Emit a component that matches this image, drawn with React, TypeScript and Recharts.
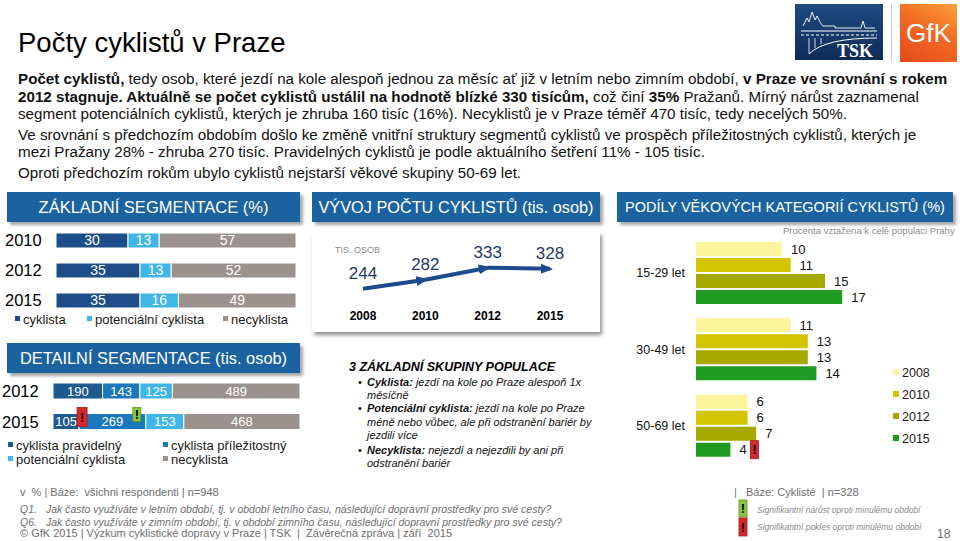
import React from 'react';
import { BarChart, Bar, XAxis, YAxis, LabelList, LineChart, Line } from 'recharts';

// ---------- DATA ----------
const basicYears = ['2010', '2012', '2015'];
const basicCyklista = [30, 35, 35];
const basicPotencialni = [13, 13, 16];
const basicNecyklista = [57, 52, 49];

const detailYears = ['2012', '2015'];
const detailPravidelny = [190, 105];
const detailPrilezitostny = [143, 269];
const detailPotencialni = [125, 153];
const detailNecyklista = [489, 468];
const detailSignifPravidelny = [null, 'down'];
const detailSignifPrilezitostny = [null, 'up'];

const trendYears = ['2008', '2010', '2012', '2015'];
const trendValues = [244, 282, 333, 328];

const ageGroups = ['15-29 let', '30-49 let', '50-69 let'];
const age2008 = [10, 11, 6];
const age2010 = [11, 13, 6];
const age2012 = [15, 13, 7];
const age2015 = [17, 14, 4];
const age2015Signif = [null, null, 'down'];
const ageSeriesNames = ['2008', '2010', '2012', '2015'];

// ---------- TABLES ----------
const basicData = basicYears.map((year, i) => ({
  year,
  cyklista: basicCyklista[i],
  potencialni: basicPotencialni[i],
  necyklista: basicNecyklista[i],
}));
const detailData = detailYears.map((year, i) => ({
  year,
  pravidelny: detailPravidelny[i],
  prilezitostny: detailPrilezitostny[i],
  potencialni: detailPotencialni[i],
  necyklista: detailNecyklista[i],
}));
// each arrow segment of the trend is its own series (so each gets an arrow head)
const trendSegKeys = trendValues.slice(1).map((_, s) => `seg${s}`);
const trendData = trendYears.map((year, i) => {
  const row: any = { year, value: trendValues[i] };
  trendSegKeys.forEach((k, s) => {
    row[k] = i === s || i === s + 1 ? trendValues[i] : null;
  });
  return row;
});
const ageData = ageGroups.map((group, i) => ({
  group,
  y2008: age2008[i],
  y2010: age2010[i],
  y2012: age2012[i],
  y2015: age2015[i],
}));

// ---------- STYLE ----------
const FONT = '"Liberation Sans", Arial, Helvetica, sans-serif';
const HEADER_BG = '#1b63a0';
const C_CYK = '#1d4e8a';
const C_POT = '#40b6e8';
const C_NEC = '#9b918f';
const C_PRAV = '#1e5a8d';
const C_PRIL = '#1b78bc';
const AGE_COLORS = ['#fbf49a', '#d0c500', '#a8a900', '#1f9b22'];
const LINE_C = '#1d4a8c';
const RED = '#d9282c';
const GREEN = '#8cc63f';

function Header({ left, top, width, text, fontSize }: any) {
  return (
    <div
      style={{
        position: 'absolute', left, top, width, height: 30, background: HEADER_BG,
        boxShadow: '3px 3px 3px rgba(0,0,0,0.35)', color: '#fff', fontSize,
        lineHeight: '30px', textAlign: 'center', whiteSpace: 'nowrap',
      }}
    >
      {text}
    </div>
  );
}

function Txt({ left, top, size, children, style }: any) {
  return (
    <div
      style={{
        position: 'absolute', left, top: top - size / 2, fontSize: size, lineHeight: `${size}px`,
        whiteSpace: 'nowrap', ...style,
      }}
    >
      {children}
    </div>
  );
}

function LegItem({ left, y, color, text, size = 13, sq = 5 }: any) {
  return (
    <div style={{ position: 'absolute', left, top: y - size / 2, height: size, fontSize: size, lineHeight: `${size}px`, whiteSpace: 'nowrap', color: '#1a1a1a' }}>
      <span style={{ display: 'inline-block', width: sq, height: sq, background: color, marginRight: 3, verticalAlign: 'middle', position: 'relative', top: -1 }} />
      <span style={{ verticalAlign: 'middle' }}>{text}</span>
    </div>
  );
}

function SignifMark({ x, y, w, h, kind }: any) {
  const fill = kind === 'down' ? RED : GREEN;
  const stroke = kind === 'down' ? '#9e1c1c' : '#5f8f25';
  return (
    <g>
      <rect x={x} y={y} width={w} height={h} fill={fill} stroke={stroke} strokeWidth={0.8} />
      <text x={x + w / 2} y={y + h / 2} textAnchor="middle" dominantBaseline="central" fontSize={13} fontWeight="bold" fill="#000">!</text>
    </g>
  );
}

const yearTick = (xPos: number, size: number) => (props: any) => (
  <text x={xPos} y={props.y} dominantBaseline="central" fontSize={size} fill="#000">
    {props.payload.value}
  </text>
);

const vbOf = (props: any) => {
  const vb = props.viewBox || props;
  return { x: Number(vb.x), y: Number(vb.y), width: Number(vb.width), height: Number(vb.height) };
};

// drawn on the last stacked segment so the marks sit above every segment
const detailSignifOverlay = (props: any) => {
  const idx = props.index;
  const row = detailData[idx];
  if (!row) return null;
  const { x, y, width } = vbOf(props);
  const total = row.pravidelny + row.prilezitostny + row.potencialni + row.necyklista;
  const W = width / (row.necyklista / total);
  const left = x + width - W;
  const b1 = left + (W * row.pravidelny) / total;
  const b2 = left + (W * (row.pravidelny + row.prilezitostny)) / total;
  return (
    <g>
      {detailSignifPravidelny[idx] ? <SignifMark x={b1 - 2} y={y - 6} w={10} h={19} kind={detailSignifPravidelny[idx]} /> : null}
      {detailSignifPrilezitostny[idx] ? <SignifMark x={b2 - 13} y={y - 6} w={8} h={14} kind={detailSignifPrilezitostny[idx]} /> : null}
    </g>
  );
};

const ageLabel = (signif: any[] | null) => (props: any) => {
  const { x, y, width, height } = vbOf(props);
  const tx = x + width + 9;
  const cy = y + height / 2;
  const s = signif ? signif[props.index] : null;
  return (
    <g>
      <text x={tx} y={cy} dominantBaseline="central" fontSize={13} fill="#111">{props.value}</text>
      {s ? <SignifMark x={tx + 11} y={cy - 9} w={8} h={18} kind={s} /> : null}
    </g>
  );
};

const trendLabel = (props: any) => {
  const { x, y } = props;
  return (
    <text x={Number(x)} y={Number(y) - 10} textAnchor="middle" fontSize={17} fill="#1f3864">
      {props.value}
    </text>
  );
};

export default function App() {
  return (
    <div style={{ position: 'absolute', left: 0, top: 0, width: 960, height: 541, background: '#fff', fontFamily: FONT, overflow: 'hidden', color: '#000' }}>
      {/* Title */}
      <Txt left={18} top={43} size={27.5}>Počty cyklistů v Praze</Txt>

      {/* Logos */}
      <svg style={{ position: 'absolute', left: 795, top: 4 }} width={88} height={56}>
        <defs>
          <linearGradient id="tskg" x1="0" y1="0" x2="0" y2="1">
            <stop offset="0" stopColor="#1f4a80" />
            <stop offset="1" stopColor="#0f2b57" />
          </linearGradient>
        </defs>
        <rect x={0} y={0} width={88} height={56} fill="url(#tskg)" />
        <polyline points="8,22 12,14 14,18 17,8 20,16 22,12 25,18 28,22 40,22 40,24 66,24 68,17 70,24 80,24" fill="none" stroke="#fff" strokeWidth={0.9} />
        <line x1={6} y1={27} x2={82} y2={27} stroke="#fff" strokeWidth={1.2} />
        <line x1={6} y1={31} x2={82} y2={31} stroke="#fff" strokeWidth={1.2} strokeDasharray="3,2" />
        <path d="M14,50 Q30,34 82,34" fill="none" stroke="#fff" strokeWidth={1} />
        <line x1={14} y1={34} x2={14} y2={50} stroke="#fff" strokeWidth={0.8} />
        <line x1={20} y1={34} x2={20} y2={44} stroke="#fff" strokeWidth={0.8} />
        <line x1={26} y1={34} x2={26} y2={40} stroke="#fff" strokeWidth={0.8} />
        <text x={60} y={53} textAnchor="middle" fontFamily="'Liberation Serif', serif" fontWeight="bold" fontSize={18} fill="#fff">TSK</text>
      </svg>
      <div style={{ position: 'absolute', left: 891, top: 4, width: 1, height: 58, background: '#c8c8c8' }} />
      <div style={{ position: 'absolute', left: 900, top: 4, width: 57, height: 58, background: 'linear-gradient(30deg, #e34a1c 0%, #f26a22 55%, #f9a13a 100%)', color: '#fff', fontSize: 26, lineHeight: '58px', textAlign: 'center' }}>GfK</div>

      {/* Paragraph */}
      <div style={{ position: 'absolute', left: 18, top: 0, color: '#111' }}>
        <Txt left={0} top={79} size={15.2}><b>Počet cyklistů,</b> tedy osob, které jezdí na kole alespoň jednou za měsíc ať již v letním nebo zimním období, <b>v Praze ve srovnání s rokem</b></Txt>
        <Txt left={0} top={97} size={15.2}><b>2012 stagnuje. Aktuálně se počet cyklistů ustálil na hodnotě blízké 330 tisícům,</b> což činí <b>35%</b> Pražanů. Mírný nárůst zaznamenal</Txt>
        <Txt left={0} top={114} size={15.2}>segment potenciálních cyklistů, kterých je zhruba 160 tisíc (16%). Necyklistů je v Praze téměř 470 tisíc, tedy necelých 50%.</Txt>
        <Txt left={0} top={135} size={15.2}>Ve srovnání s předchozím obdobím došlo ke změně vnitřní struktury segmentů cyklistů ve prospěch příležitostných cyklistů, kterých je</Txt>
        <Txt left={0} top={152} size={15.2}>mezi Pražany 28% - zhruba 270 tisíc. Pravidelných cyklistů je podle aktuálního šetření 11% - 105 tisíc.</Txt>
        <Txt left={0} top={173} size={15.2}>Oproti předchozím rokům ubylo cyklistů nejstarší věkové skupiny 50-69 let.</Txt>
      </div>

      {/* Headers */}
      <Header left={7} top={192} width={293} text="ZÁKLADNÍ SEGMENTACE (%)" fontSize={16.5} />
      <Header left={312} top={192} width={288} text="VÝVOJ POČTU CYKLISTŮ (tis. osob)" fontSize={16.3} />
      <Header left={617} top={192} width={336} text="PODÍLY VĚKOVÝCH KATEGORIÍ CYKLISTŮ (%)" fontSize={14.5} />
      <Header left={7} top={343} width={293} text="DETAILNÍ SEGMENTACE (tis. osob)" fontSize={16.4} />

      {/* Basic segmentation chart */}
      <div style={{ position: 'absolute', left: 0, top: 225 }}>
        <BarChart width={300} height={90} data={basicData} layout="vertical" margin={{ top: 0, right: 4, bottom: 0, left: 0 }}>
          <XAxis type="number" hide domain={[0, 100]} />
          <YAxis type="category" dataKey="year" width={56} axisLine={false} tickLine={false} tick={yearTick(5, 16.5)} />
          <Bar dataKey="cyklista" stackId="a" fill={C_CYK} stroke="#fff" strokeWidth={1} barSize={15} isAnimationActive={false}>
            <LabelList dataKey="cyklista" position="center" fill="#fff" fontSize={14} />
          </Bar>
          <Bar dataKey="potencialni" stackId="a" fill={C_POT} stroke="#fff" strokeWidth={1} barSize={15} isAnimationActive={false}>
            <LabelList dataKey="potencialni" position="center" fill="#fff" fontSize={14} />
          </Bar>
          <Bar dataKey="necyklista" stackId="a" fill={C_NEC} stroke="#fff" strokeWidth={1} barSize={15} isAnimationActive={false}>
            <LabelList dataKey="necyklista" position="center" fill="#fff" fontSize={14} />
          </Bar>
        </BarChart>
      </div>
      <LegItem left={15} y={318} color={C_CYK} text="cyklista" />
      <LegItem left={87} y={318} color={C_POT} text="potenciální cyklista" />
      <LegItem left={223} y={318} color={C_NEC} text="necyklista" />

      {/* Detailed segmentation chart */}
      <div style={{ position: 'absolute', left: 0, top: 376 }}>
        <BarChart width={300} height={61} data={detailData} layout="vertical" stackOffset="expand" margin={{ top: 0, right: 0, bottom: 0, left: 0 }}>
          <XAxis type="number" hide domain={[0, 1]} />
          <YAxis type="category" dataKey="year" width={53} axisLine={false} tickLine={false} tick={yearTick(2, 16.5)} />
          <Bar dataKey="pravidelny" stackId="d" fill={C_PRAV} stroke="#fff" strokeWidth={1} barSize={16} isAnimationActive={false}>
            <LabelList dataKey="pravidelny" position="center" fill="#fff" fontSize={13} />
          </Bar>
          <Bar dataKey="prilezitostny" stackId="d" fill={C_PRIL} stroke="#fff" strokeWidth={1} barSize={16} isAnimationActive={false}>
            <LabelList dataKey="prilezitostny" position="center" fill="#fff" fontSize={13} />
          </Bar>
          <Bar dataKey="potencialni" stackId="d" fill={C_POT} stroke="#fff" strokeWidth={1} barSize={16} isAnimationActive={false}>
            <LabelList dataKey="potencialni" position="center" fill="#fff" fontSize={13} />
          </Bar>
          <Bar dataKey="necyklista" stackId="d" fill={C_NEC} stroke="#fff" strokeWidth={1} barSize={16} isAnimationActive={false}>
            <LabelList dataKey="necyklista" position="center" fill="#fff" fontSize={13} />
            <LabelList dataKey="necyklista" content={detailSignifOverlay} />
          </Bar>
        </BarChart>
      </div>
      <LegItem left={8} y={444} color={C_PRAV} text="cyklista pravidelný" />
      <LegItem left={163} y={444} color={C_PRIL} text="cyklista příležitostný" />
      <LegItem left={8} y={458} color={C_POT} text="potenciální cyklista" />
      <LegItem left={163} y={458} color={C_NEC} text="necyklista" />

      {/* Trend chart */}
      <div style={{ position: 'absolute', left: 312, top: 232, width: 288, height: 100, background: '#fff', boxShadow: '2px 3px 4px rgba(0,0,0,0.45)' }}>
        <LineChart width={288} height={100} data={trendData} margin={{ top: 8, right: 19, bottom: 0, left: 20 }}>
          <defs>
            <marker id="arrowHead" viewBox="0 0 12 10" refX="9" refY="5" markerWidth="3" markerHeight="2.5" orient="auto" markerUnits="strokeWidth">
              <path d="M0,0 L12,5 L0,10 z" fill={LINE_C} />
            </marker>
          </defs>
          <XAxis dataKey="year" padding={{ left: 31, right: 31 }} axisLine={false} tickLine={false} height={21}
            tick={(p: any) => (
              <text x={p.x} y={p.y - 3} textAnchor="middle" dominantBaseline="central" fontSize={12} fontWeight="bold" fill="#000">{p.payload.value}</text>
            )} />
          <YAxis hide domain={[150, 450]} />
          {trendSegKeys.map((k) => (
            <Line key={k} dataKey={k} type="linear" stroke={LINE_C} strokeWidth={4} dot={false} activeDot={false}
              connectNulls={false} markerEnd="url(#arrowHead)" isAnimationActive={false} />
          ))}
          <Line dataKey="value" type="linear" stroke="none" dot={false} activeDot={false} isAnimationActive={false}>
            <LabelList dataKey="value" content={trendLabel} />
          </Line>
        </LineChart>
        <Txt left={23} top={18} size={9} style={{ color: '#8c8c8c' }}>TIS. OSOB</Txt>
      </div>

      {/* Group definitions */}
      <Txt left={349} top={367} size={12.5} style={{ fontWeight: 'bold', fontStyle: 'italic' }}>3 ZÁKLADNÍ SKUPINY POPULACE</Txt>
      {[382, 408, 450].map((y) => (
        <Txt key={y} left={358} top={y} size={11}>•</Txt>
      ))}
      <div style={{ fontStyle: 'italic', color: '#111' }}>
        <Txt left={367} top={382} size={11}><b>Cyklista:</b> jezdí na kole po Praze alespoň 1x</Txt>
        <Txt left={367} top={395} size={11}>měsíčně</Txt>
        <Txt left={367} top={408} size={11}><b>Potenciální cyklista:</b> jezdí na kole po Praze</Txt>
        <Txt left={367} top={422} size={11}>méně nebo vůbec, ale při odstranění bariér by</Txt>
        <Txt left={367} top={435} size={11}>jezdili více</Txt>
        <Txt left={367} top={450} size={11}><b>Necyklista:</b> nejezdí a nejezdili by ani při</Txt>
        <Txt left={367} top={463} size={11}>odstranění bariér</Txt>
      </div>

      {/* Age chart */}
      <Txt left={783} top={231} size={9.5} style={{ color: '#8c8c8c' }}>Procenta vztažena k celé populaci Prahy</Txt>
      <div style={{ position: 'absolute', left: 610, top: 235 }}>
        <BarChart width={258} height={229} data={ageData} layout="vertical" barSize={14} barGap={2} margin={{ top: 0, right: 0, bottom: 0, left: 0 }}>
          <XAxis type="number" hide domain={[0, 20]} />
          <YAxis type="category" dataKey="group" width={86} axisLine={false} tickLine={false}
            tick={(p: any) => (
              <text x={75} y={p.y} textAnchor="end" dominantBaseline="central" fontSize={12.5} fill="#111">{p.payload.value}</text>
            )} />
          <Bar dataKey="y2008" fill={AGE_COLORS[0]} isAnimationActive={false}>
            <LabelList dataKey="y2008" content={ageLabel(null)} />
          </Bar>
          <Bar dataKey="y2010" fill={AGE_COLORS[1]} isAnimationActive={false}>
            <LabelList dataKey="y2010" content={ageLabel(null)} />
          </Bar>
          <Bar dataKey="y2012" fill={AGE_COLORS[2]} isAnimationActive={false}>
            <LabelList dataKey="y2012" content={ageLabel(null)} />
          </Bar>
          <Bar dataKey="y2015" fill={AGE_COLORS[3]} isAnimationActive={false}>
            <LabelList dataKey="y2015" content={ageLabel(age2015Signif)} />
          </Bar>
        </BarChart>
      </div>
      {ageSeriesNames.map((n, i) => (
        <LegItem key={n} left={893} y={373 + i * 22} color={AGE_COLORS[i]} text={n} size={12.5} sq={6} />
      ))}

      {/* Footer */}
      <div style={{ color: '#6e6e6e' }}>
        <Txt left={20} top={492} size={11}>v&nbsp; % | Báze:&nbsp; všichni respondenti | n=948</Txt>
        <Txt left={20} top={509} size={10.5} style={{ fontStyle: 'italic' }}><span style={{ display: 'inline-block', width: 26 }}>Q1.</span>Jak často využíváte v letním období, tj. v období letního času, následující dopravní prostředky pro své cesty?</Txt>
        <Txt left={20} top={522} size={10.5} style={{ fontStyle: 'italic' }}><span style={{ display: 'inline-block', width: 26 }}>Q6.</span>Jak často využíváte v zimním období, tj. v období zimního času, následující dopravní prostředky pro své cesty?</Txt>
        <Txt left={20} top={533} size={11}>© GfK 2015 | Výzkum cyklistické dopravy v Praze | TSK&nbsp; |&nbsp; Závěrečná zpráva | září&nbsp; 2015</Txt>
        <Txt left={734} top={492} size={11}>|&nbsp;&nbsp; Báze: Cyklisté&nbsp; | n=328</Txt>
        <Txt left={757} top={510} size={8.5} style={{ fontStyle: 'italic', color: '#8a8a8a' }}>Signifikantní nárůst oproti minulému období</Txt>
        <Txt left={757} top={527} size={8.5} style={{ fontStyle: 'italic', color: '#8a8a8a' }}>Signifikantní pokles oproti minulému období</Txt>
        <Txt left={937} top={534} size={12}>18</Txt>
      </div>
      <svg style={{ position: 'absolute', left: 738, top: 499 }} width={12} height={40}>
        <SignifMark x={1} y={1} w={8} h={17} kind="up" />
        <SignifMark x={1} y={19} w={8} h={18} kind="down" />
      </svg>
    </div>
  );
}
